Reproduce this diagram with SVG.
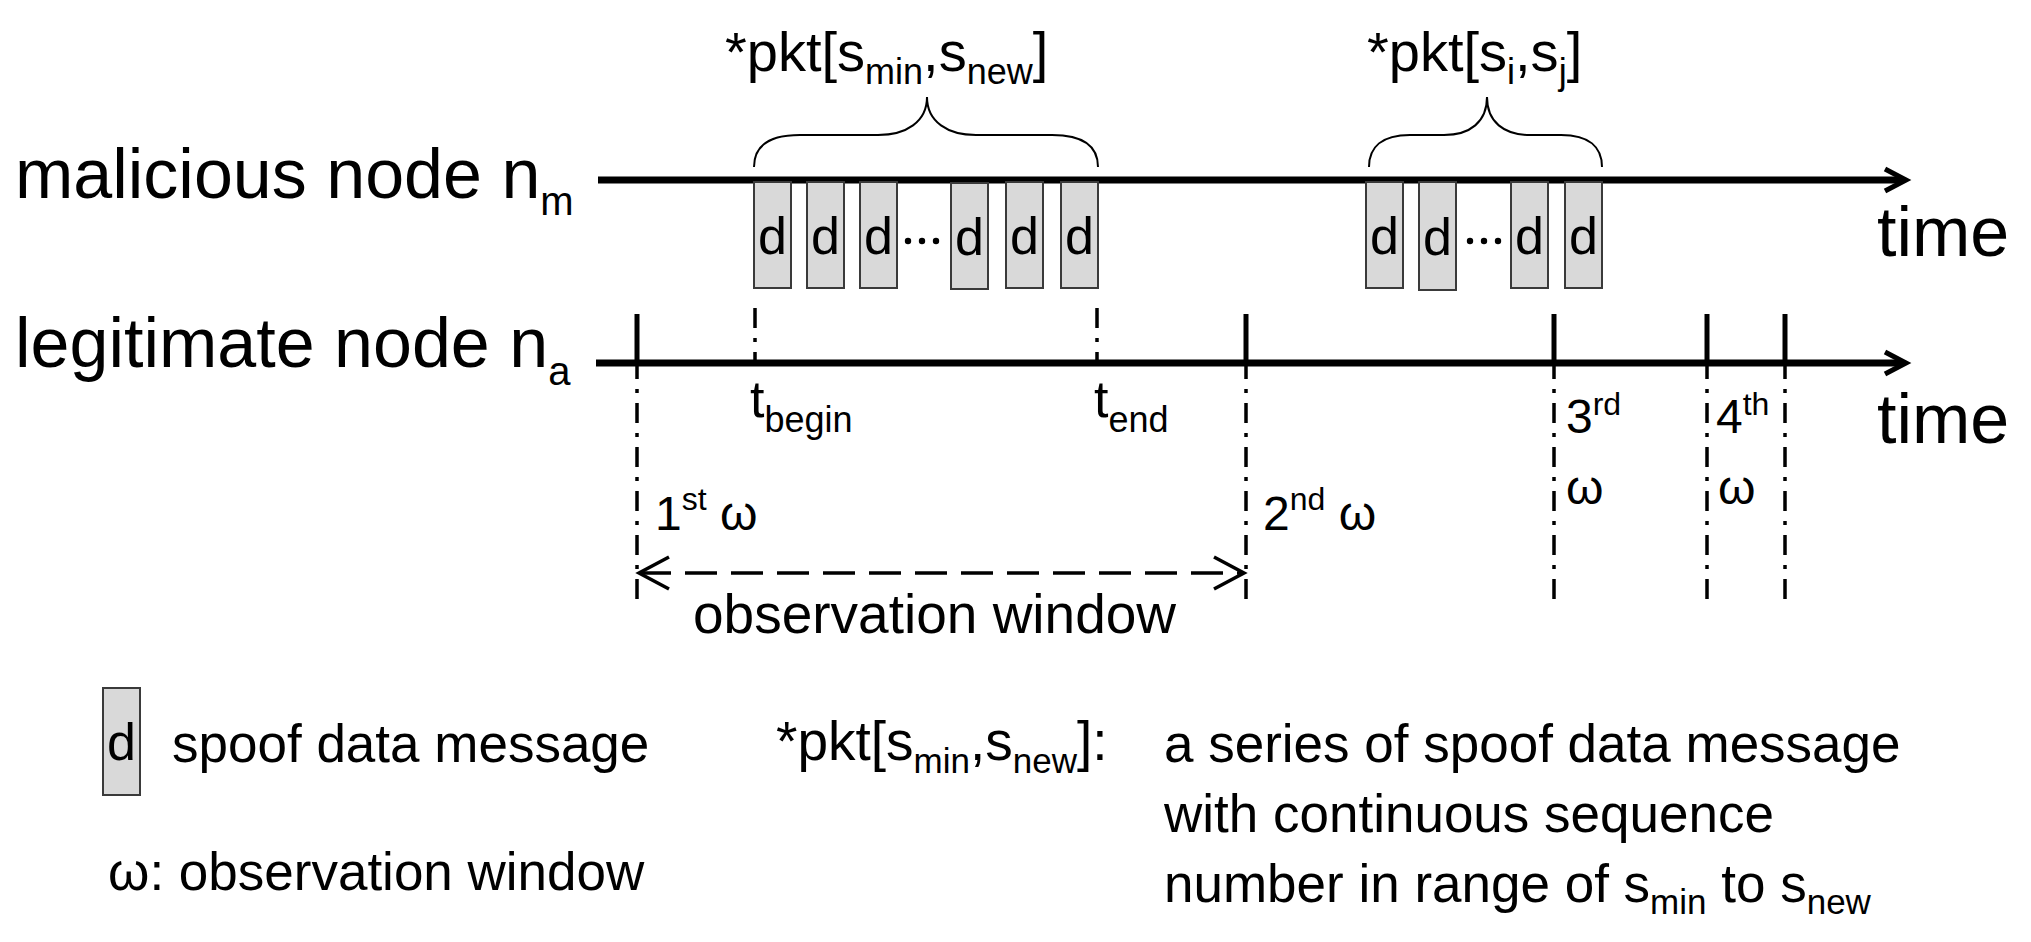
<svg xmlns="http://www.w3.org/2000/svg" width="2031" height="942" viewBox="0 0 2031 942">
<style>
text { font-family: "Liberation Sans", Arial, sans-serif; fill: #000; }
.big { font-size: 70px; }
.mid { font-size: 53px; }
.ord { font-size: 48px; }
.box { fill: #d9d9d9; stroke: #3a3a3a; stroke-width: 2; }
.bx { font-size: 52px; text-anchor: middle; }
.axis { stroke: #000; stroke-width: 7; fill: none; }
.head { stroke: #000; stroke-width: 5; fill: none; stroke-linejoin: miter; }
.tick { stroke: #000; stroke-width: 5; }
.dd { stroke: #000; stroke-width: 3.5; stroke-dasharray: 20 10 4 10; fill: none; }
.dash { stroke: #000; stroke-width: 3.5; stroke-dasharray: 32 14; fill: none; }
.ahead { stroke: #000; stroke-width: 3.5; fill: none; }
.brace { fill: none; stroke: #000; stroke-width: 2; }
</style>
<rect x="0" y="0" width="2031" height="942" fill="#fff"/>

<g id="connectors">
  <!-- timelines -->
  <line class="axis" x1="598" y1="180" x2="1903" y2="180"/>
  <polyline class="head" points="1885,169 1906,180 1885,191"/>
  <line class="axis" x1="596" y1="363" x2="1903" y2="363"/>
  <polyline class="head" points="1885,352 1906,363 1885,374"/>
  <!-- window ticks -->
  <line class="tick" x1="637" y1="314" x2="637" y2="362"/>
  <line class="tick" x1="1246" y1="314" x2="1246" y2="362"/>
  <line class="tick" x1="1554" y1="314" x2="1554" y2="362"/>
  <line class="tick" x1="1707" y1="314" x2="1707" y2="362"/>
  <line class="tick" x1="1785" y1="314" x2="1785" y2="362"/>
  <!-- dash-dot guides -->
  <line class="dd" x1="637" y1="359" x2="637" y2="601"/>
  <line class="dd" x1="1246" y1="359" x2="1246" y2="601"/>
  <line class="dd" x1="1554" y1="359" x2="1554" y2="601"/>
  <line class="dd" x1="1707" y1="359" x2="1707" y2="601"/>
  <line class="dd" x1="1785" y1="359" x2="1785" y2="601"/>
  <line class="dd" x1="755" y1="308" x2="755" y2="362"/>
  <line class="dd" x1="1097" y1="308" x2="1097" y2="362"/>
  <!-- observation window arrow -->
  <line class="dash" x1="639" y1="573" x2="1244" y2="573"/>
  <polyline class="ahead" points="669,557 639,573 669,589"/>
  <polyline class="ahead" points="1214,557 1244,573 1214,589"/>
  <!-- braces -->
  <path class="brace" d="M754,167 C754,147 768,135 800,135 L878,135 C906,135 927,122 927,97 C927,122 948,135 976,135 L1052,135 C1084,135 1098,147 1098,167"/>
  <path class="brace" d="M1369,167 C1369,147 1382,135 1410,135 L1444,135 C1470,135 1487,122 1487,97 C1487,122 1504,135 1530,135 L1561,135 C1589,135 1602,147 1602,167"/>
</g>

<g id="labels">
  <text class="big" x="15" y="198">malicious node n<tspan font-size="40" y="215">m</tspan></text>
  <text class="big" x="15" y="367">legitimate node n<tspan font-size="40" y="385">a</tspan></text>
  <text class="big" x="1877" y="256">time</text>
  <text class="big" x="1877" y="443">time</text>
</g>

<g id="pkt-top-1">
  <text x="725" y="71" font-size="56">*pkt[s<tspan font-size="36" dy="13">min</tspan><tspan dy="-13">,s</tspan><tspan font-size="36" dy="13">new</tspan><tspan dy="-13">]</tspan></text>
</g>
<g id="pkt-top-2">
  <text x="1367" y="71" font-size="56">*pkt[s<tspan font-size="36" dy="13">i</tspan><tspan dy="-13">,s</tspan><tspan font-size="36" dy="13">j</tspan><tspan dy="-13">]</tspan></text>
</g>

<g id="packets-1">
  <rect class="box" x="754" y="182" width="37" height="106"/>
  <text class="bx" x="772.5" y="254">d</text>
  <rect class="box" x="807" y="182" width="37" height="106"/>
  <text class="bx" x="825.5" y="254">d</text>
  <rect class="box" x="860" y="182" width="37" height="106"/>
  <text class="bx" x="878.5" y="254">d</text>
  <circle cx="908" cy="241" r="3.2"/>
  <circle cx="922" cy="241" r="3.2"/>
  <circle cx="936" cy="241" r="3.2"/>
  <rect class="box" x="951" y="183" width="37" height="106"/>
  <text class="bx" x="969.5" y="255">d</text>
  <rect class="box" x="1006" y="182" width="37" height="106"/>
  <text class="bx" x="1024.5" y="254">d</text>
  <rect class="box" x="1061" y="182" width="37" height="106"/>
  <text class="bx" x="1079.5" y="254">d</text>
</g>

<g id="packets-2">
  <rect class="box" x="1366" y="182" width="37" height="106"/>
  <text class="bx" x="1384.5" y="254">d</text>
  <rect class="box" x="1419" y="182" width="37" height="108"/>
  <text class="bx" x="1437.5" y="255">d</text>
  <circle cx="1470" cy="241" r="3.2"/>
  <circle cx="1484" cy="241" r="3.2"/>
  <circle cx="1498" cy="241" r="3.2"/>
  <rect class="box" x="1511" y="182" width="37" height="106"/>
  <text class="bx" x="1529.5" y="254">d</text>
  <rect class="box" x="1565" y="182" width="37" height="106"/>
  <text class="bx" x="1583.5" y="254">d</text>
</g>

<g id="time-marks">
  <text x="750" y="417" font-size="52">t<tspan font-size="36" dy="15">begin</tspan></text>
  <text x="1094" y="417" font-size="52">t<tspan font-size="36" dy="15">end</tspan></text>
</g>

<g id="windows">
  <text class="ord" x="655" y="530">1<tspan font-size="32" dy="-20">st</tspan><tspan dy="20"> ω</tspan></text>
  <text class="ord" x="1263" y="530">2<tspan font-size="32" dy="-20">nd</tspan><tspan dy="20"> ω</tspan></text>
  <text class="ord" x="1566" y="433">3<tspan font-size="32" dy="-18">rd</tspan></text>
  <text class="ord" x="1566" y="504">ω</text>
  <text class="ord" x="1716" y="433">4<tspan font-size="32" dy="-18">th</tspan></text>
  <text class="ord" x="1718" y="504">ω</text>
  <text x="693" y="633" font-size="55">observation window</text>
</g>

<g id="legend">
  <rect class="box" x="103" y="688" width="37" height="107"/>
  <text class="bx" x="121.5" y="760">d</text>
  <text class="mid" x="172" y="762">spoof data message</text>
  <text class="mid" x="108" y="890">ω: observation window</text>
  <text x="776" y="760" font-size="55">*pkt[s<tspan font-size="35" dy="13">min</tspan><tspan dy="-13">,s</tspan><tspan font-size="35" dy="13">new</tspan><tspan dy="-13">]:</tspan></text>
  <text class="mid" x="1164" y="762">a series of spoof data message</text>
  <text class="mid" x="1164" y="832">with continuous sequence</text>
  <text class="mid" x="1164" y="902">number in range of s<tspan font-size="35" dy="12">min</tspan><tspan dy="-12"> to s</tspan><tspan font-size="35" dy="12">new</tspan></text>
</g>
</svg>
